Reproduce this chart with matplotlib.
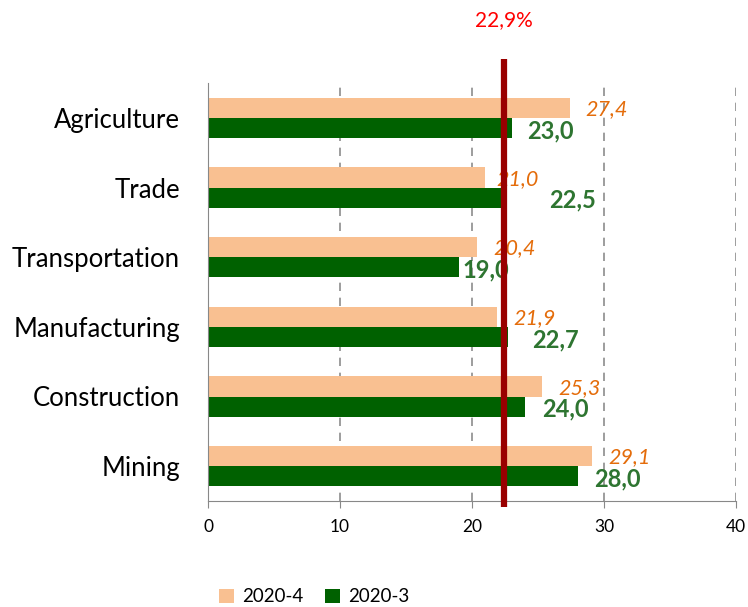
import numpy as np
import matplotlib.pyplot as plt

plt.rcParams['font.family'] = ['Lato', 'DejaVu Sans']

# Data
categories = ['Agriculture', 'Trade', 'Transportation', 'Manufacturing', 'Construction', 'Mining']
q4 = [27.4, 21.0, 20.4, 21.9, 25.3, 29.1]   # 2020-4
q3 = [23.0, 22.5, 19.0, 22.7, 24.0, 28.0]   # 2020-3
avg_label = '22,9%'
avg_pos = 22.45

# label gaps after bar ends (pixels), as placed in the original
gap4 = [16, 11, 16, 16, 16, 16]
gap3 = [16, 44, 4, 24, 17, 17]

def fmt(v):
    return f'{v:.1f}'.replace('.', ',')

fig = plt.figure(figsize=(7.48, 6.07), dpi=100)
ax = fig.add_axes([208/748, 1 - 501/607, 528/748, 418/607])

y = np.arange(len(categories))[::-1]
h = 0.29
ax.barh(y + h/2, q4, height=h, color='#F9C091', label='2020-4')
ax.barh(y - h/2, q3, height=h, color='#006100', label='2020-3')

px = 40 / 528
for yi, a, b, g4, g3 in zip(y, q4, q3, gap4, gap3):
    ax.text(a + g4 * px, yi + h/2 - 0.02, fmt(a), color='#E46C0A', style='italic',
            fontsize=15.5, va='center', ha='left')
    ax.text(b + g3 * px, yi - h/2 - 0.04, fmt(b), color='#2E7531', fontweight='bold',
            fontsize=17, va='center', ha='left')

ax.set_xlim(0, 40)
ax.set_ylim(-0.5, 5.5)
ax.set_yticks(y)
ax.set_yticklabels(categories, fontsize=18.5)
ax.set_xticks([0, 10, 20, 30, 40])
ax.tick_params(axis='x', labelsize=12.5, length=5, color='#888888', pad=8)
ax.tick_params(axis='y', length=0, pad=20)
ax.xaxis.grid(True, linestyle=(0, (5, 4)), color='#8c8c8c', linewidth=1.2)
ax.set_axisbelow(True)
for s in ['top', 'right']:
    ax.spines[s].set_visible(False)
ax.spines['left'].set_color('#888888')
ax.spines['bottom'].set_color('#888888')

# average line, drawn over the labels
ax.plot([avg_pos, avg_pos], [-0.58, 5.85], color='#990000', linewidth=4.5,
        clip_on=False, solid_capstyle='butt', zorder=10)
ax.text(avg_pos, 6.4, avg_label, color='#FF0000', fontsize=15, ha='center', va='center')

fig.legend(loc='lower center', bbox_to_anchor=(0.42, -0.025), ncol=2, frameon=False,
           fontsize=13.5, handlelength=0.8, handleheight=0.8, columnspacing=1.2,
           handletextpad=0.4)

fig.savefig('out.png', dpi=100)
